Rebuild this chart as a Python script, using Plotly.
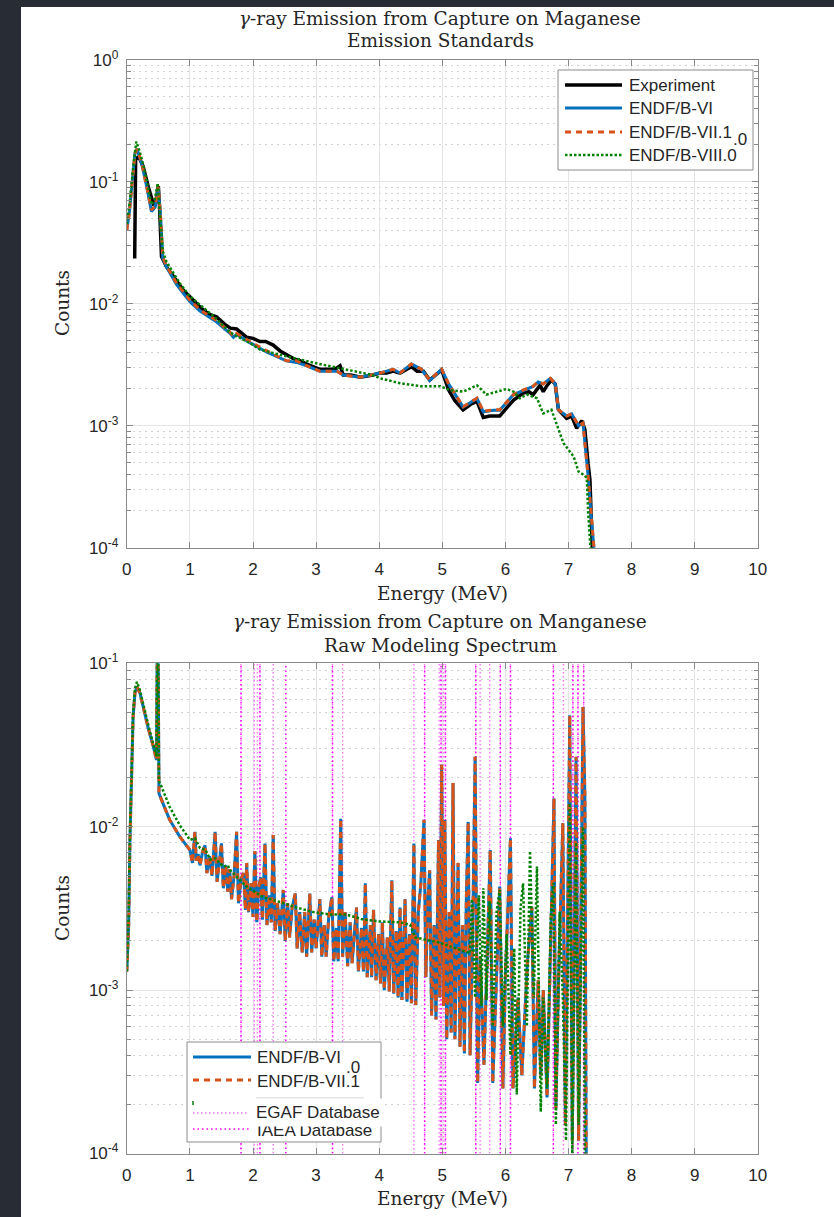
import plotly.graph_objects as go

W, H = 834, 1217

# ---------------- TOP: Emission Standards ----------------
exp_E = [0.125, 0.14, 0.19, 0.26, 0.34, 0.42, 0.46, 0.5, 0.52, 0.55, 0.63, 0.79, 0.9, 1.0, 1.16, 1.3, 1.42,
         1.55, 1.64, 1.74, 1.82, 1.9, 2.0, 2.11, 2.2, 2.32, 2.43, 2.53, 2.64, 2.75, 2.85, 3.06, 3.2, 3.3,
         3.38, 3.43, 3.55, 3.7, 3.9, 4.01, 4.12, 4.22, 4.33, 4.51, 4.6, 4.7, 4.8, 4.99, 5.1, 5.2, 5.33,
         5.45, 5.55, 5.65, 5.75, 5.81, 5.91, 6.02, 6.13, 6.28, 6.37, 6.44, 6.55, 6.6, 6.65, 6.73, 6.79,
         6.84, 6.97, 7.05, 7.13, 7.21, 7.26, 7.31, 7.34, 7.38]
exp_C = [0.0235, 0.155, 0.16, 0.133, 0.091, 0.066, 0.068, 0.092, 0.06, 0.0243, 0.020, 0.0156, 0.0128, 0.0114,
         0.0094, 0.0082, 0.0078, 0.0068, 0.0063, 0.0062, 0.0057, 0.0053, 0.0052, 0.0049, 0.0049, 0.00458,
         0.0041, 0.0038, 0.00355, 0.0034, 0.0032, 0.0029, 0.0029, 0.0029, 0.0031, 0.0026, 0.0026, 0.0025,
         0.0026, 0.0027, 0.0027, 0.0028, 0.0027, 0.00305, 0.0028, 0.0028, 0.00237, 0.00286, 0.00196,
         0.0016, 0.00135, 0.0015, 0.00158, 0.00117, 0.0012, 0.0012, 0.0012, 0.0014, 0.00162, 0.00185,
         0.0019, 0.0018, 0.00215, 0.0019, 0.0021, 0.00237, 0.0022, 0.00135, 0.00115, 0.0012, 0.00095,
         0.0011, 0.00093, 0.00049, 0.00036, 0.00009]

std_E = [0.0, 0.04, 0.08, 0.13, 0.16, 0.19, 0.24, 0.32, 0.39, 0.45, 0.5, 0.54, 0.57, 0.63, 0.79, 1.0, 1.16,
         1.42, 1.64, 1.69, 1.74, 1.95, 2.22, 2.53, 2.69, 2.85, 3.06, 3.33, 3.43, 3.7, 4.01, 4.22, 4.33,
         4.51, 4.67, 4.8, 4.99, 5.1, 5.33, 5.55, 5.65, 5.81, 5.91, 6.13, 6.28, 6.44, 6.52, 6.6, 6.71,
         6.79, 6.84, 6.97, 7.05, 7.16, 7.23, 7.31, 7.36, 7.41]
vi_C = [0.04, 0.056, 0.093, 0.172, 0.186, 0.168, 0.138, 0.089, 0.057, 0.062, 0.089, 0.047, 0.0235, 0.0200,
        0.0143, 0.0104, 0.0087, 0.0071, 0.0057, 0.0053, 0.0056, 0.0048, 0.0040, 0.0034, 0.0033, 0.0031,
        0.0028, 0.0028, 0.0026, 0.0025, 0.0027, 0.0029, 0.0027, 0.0032, 0.0029, 0.00235, 0.0029, 0.0022,
        0.00142, 0.00167, 0.0013, 0.00134, 0.00134, 0.0018, 0.00195, 0.0021, 0.00228, 0.0022, 0.00244,
        0.0022, 0.00135, 0.0012, 0.00125, 0.001, 0.00105, 0.00039, 0.00018, 0.00009]
vii1_C = [0.04, 0.055, 0.091, 0.17, 0.185, 0.17, 0.14, 0.091, 0.0586, 0.063, 0.091, 0.048, 0.024, 0.0205,
          0.0147, 0.0107, 0.0089, 0.0073, 0.0058, 0.0054, 0.0057, 0.0049, 0.0041, 0.0034, 0.0034, 0.0031,
          0.0028, 0.0028, 0.0026, 0.0025, 0.0027, 0.0029, 0.0027, 0.0032, 0.0029, 0.00237, 0.0029, 0.0022,
          0.00143, 0.00168, 0.00131, 0.00135, 0.00135, 0.0018, 0.00196, 0.00211, 0.00229, 0.0022, 0.00245,
          0.0022, 0.00135, 0.0012, 0.00125, 0.001, 0.00105, 0.00039, 0.00018, 0.00009]

viii_E = [0.0, 0.05, 0.1, 0.15, 0.2, 0.25, 0.32, 0.39, 0.44, 0.49, 0.53, 0.57, 0.63, 0.79, 0.84, 1.0, 1.16,
          1.4, 1.64, 2.0, 2.11, 2.53, 3.06, 3.48, 3.9, 4.01, 4.33, 4.65, 4.96, 5.12, 5.33, 5.55, 5.7, 6.02,
          6.13, 6.23, 6.34, 6.5, 6.6, 6.73, 6.81, 6.92, 7.08, 7.16, 7.26, 7.29, 7.31, 7.34, 7.36]
viii_C = [0.045, 0.07, 0.13, 0.213, 0.18, 0.145, 0.1, 0.065, 0.07, 0.097, 0.05, 0.027, 0.022, 0.016,
          0.0147, 0.0115, 0.0098, 0.0077, 0.0058, 0.0046, 0.0042, 0.0037, 0.0032, 0.0029, 0.0026, 0.00245,
          0.00223, 0.00211, 0.00211, 0.00196, 0.0019, 0.00214, 0.0018, 0.002, 0.0019, 0.00168, 0.0018,
          0.00168, 0.00126, 0.00135, 0.00104, 0.00072, 0.00056, 0.00042, 0.00039, 0.00037, 0.0002, 0.0001,
          0.00008]

# ---------------- BOTTOM: Raw Modeling Spectrum ----------------
raw_E = [0.0, 0.03, 0.05, 0.08, 0.1, 0.13, 0.16, 0.21, 0.26, 0.34, 0.42, 0.47, 0.49, 0.51, 0.55, 0.68, 0.84,
         1.00, 1.04, 1.08, 1.10, 1.13, 1.16, 1.20, 1.24, 1.27, 1.31, 1.35, 1.40, 1.43, 1.47, 1.50, 1.53,
         1.57, 1.60, 1.63, 1.66, 1.70, 1.74, 1.77, 1.81, 1.85, 1.88, 1.90, 1.93, 1.97, 2.00, 2.03, 2.06,
         2.09, 2.12, 2.15, 2.19, 2.22, 2.26, 2.29, 2.32, 2.35, 2.39, 2.43, 2.48, 2.51, 2.55, 2.58, 2.62,
         2.67, 2.70, 2.74, 2.78, 2.82, 2.85, 2.90, 2.93, 2.97, 3.00, 3.06, 3.09, 3.13, 3.16, 3.20, 3.25,
         3.28, 3.32, 3.35, 3.39, 3.42, 3.46, 3.50, 3.54, 3.57, 3.64, 3.67, 3.72, 3.75, 3.78, 3.81, 3.86,
         3.88, 3.91, 3.95, 3.99, 4.02, 4.05, 4.08, 4.13, 4.16, 4.20, 4.23, 4.27, 4.30, 4.33, 4.36, 4.41,
         4.44, 4.48, 4.51, 4.55, 4.58, 4.62, 4.66, 4.71, 4.74, 4.77, 4.80, 4.83, 4.87, 4.90, 4.94, 4.96,
         4.99, 5.02, 5.04, 5.07, 5.11, 5.14, 5.17, 5.20, 5.25, 5.28, 5.32, 5.35, 5.38, 5.41, 5.44, 5.48,
         5.52, 5.56, 5.6, 5.66, 5.76, 5.8, 5.86, 5.91, 5.96, 6.0, 6.08, 6.12, 6.2, 6.26, 6.35, 6.42, 6.46,
         6.52, 6.56, 6.6, 6.66, 6.77, 6.8, 6.85, 6.91, 6.95, 7.02, 7.06, 7.12, 7.16, 7.23, 7.26, 7.28, 7.3]
raw_vi = [0.0013, 0.0025, 0.0083, 0.0203, 0.047, 0.066, 0.072, 0.0655, 0.054, 0.040, 0.031, 0.0256, 0.3,
          0.016, 0.0146, 0.011, 0.0087,
          0.0072, 0.0060, 0.0093, 0.0062, 0.0068, 0.0058, 0.0070, 0.0077, 0.0052, 0.0066, 0.0050, 0.0093,
          0.0046, 0.0062, 0.0079, 0.0042, 0.0058, 0.0040, 0.0055, 0.0036, 0.0050, 0.0093, 0.0034, 0.0048,
          0.0052, 0.0031, 0.0060, 0.0030, 0.0045, 0.0028, 0.0071, 0.0026, 0.0042, 0.0049, 0.0027, 0.0079,
          0.0025, 0.0038, 0.0026, 0.0089, 0.0023, 0.0034, 0.0022, 0.0041, 0.0020, 0.0034, 0.0021, 0.0032,
          0.0039, 0.0018, 0.0030, 0.0017, 0.0030, 0.0016, 0.0039, 0.0017, 0.0027, 0.0018, 0.0036, 0.0016,
          0.0025, 0.0016, 0.0028, 0.0037, 0.0015, 0.0024, 0.0015, 0.0112, 0.0016, 0.0030, 0.0014, 0.0026,
          0.00146, 0.0032, 0.0013, 0.0024, 0.0013, 0.0045, 0.0012, 0.0025, 0.0012, 0.0031, 0.00115, 0.0022,
          0.0011, 0.0026, 0.0010, 0.0021, 0.00098, 0.0047, 0.00095, 0.0023, 0.0009, 0.0032, 0.00087, 0.0036,
          0.00085, 0.0022, 0.00083, 0.0079, 0.00081, 0.0030, 0.0045, 0.011, 0.0012, 0.0035, 0.0054, 0.0007,
          0.0025, 0.00066, 0.0083, 0.0009, 0.0239, 0.0008, 0.011, 0.0005, 0.0030, 0.00055, 0.0185, 0.0005,
          0.006, 0.00045, 0.0025, 0.00041, 0.0035, 0.0107, 0.0004, 0.0020, 0.0268, 0.00027, 0.0016,
          0.00035, 0.0072, 0.00027, 0.0012, 0.0043, 0.00025, 0.0012, 0.0085, 0.00025, 0.0009, 0.0003,
          0.0015, 0.0032, 0.00025, 0.00115, 0.0003, 0.001, 0.00022, 0.0149, 0.00019, 0.0015, 0.0105,
          0.00015, 0.048, 0.00012, 0.0268, 0.00012, 0.054, 0.0153, 0.00011, 0.00005]
raw_vii1 = list(raw_vi)

raw8_E = [0.0, 0.03, 0.05, 0.08, 0.1, 0.13, 0.16, 0.21, 0.26, 0.34, 0.42, 0.47, 0.49, 0.51, 0.55, 0.68, 0.84,
          1.0, 1.08, 1.16, 1.25, 1.32, 1.4, 1.53, 1.6, 1.64, 1.9, 2.16, 2.43, 2.69, 2.96, 3.22, 3.48, 3.75,
          4.01, 4.33, 4.49, 4.57, 4.96, 5.44, 5.47, 5.52, 5.58, 5.62, 5.65, 5.7, 5.75, 5.8, 5.86, 5.91, 5.96,
          6.02, 6.08, 6.14, 6.18, 6.24, 6.28, 6.34, 6.39, 6.45, 6.5, 6.56, 6.6, 6.66, 6.72, 6.76, 6.8, 6.86,
          6.91, 6.96, 7.02, 7.06, 7.12, 7.16, 7.23, 7.26, 7.3]
raw_viii = [0.0013, 0.003, 0.009, 0.022, 0.05, 0.07, 0.077, 0.068, 0.056, 0.042, 0.032, 0.027, 0.3, 0.019,
            0.0176, 0.0132, 0.0102, 0.0083, 0.0085, 0.0074, 0.0072, 0.0063, 0.0064, 0.0057, 0.0058, 0.0054,
            0.0043, 0.0037, 0.00346, 0.0032, 0.0030, 0.0029, 0.0029, 0.0027, 0.00263, 0.0026, 0.00251,
            0.0021, 0.00195, 0.00168, 0.0036, 0.0009, 0.0038, 0.0008, 0.0042, 0.00087, 0.0035, 0.0006, 0.003,
            0.0041, 0.0006, 0.0022, 0.0004, 0.0018, 0.00023, 0.0032, 0.0045, 0.0006, 0.0071, 0.0009, 0.0057,
            0.00018, 0.0009, 0.00025, 0.0028, 0.0045, 0.00015, 0.003, 0.0009, 0.00012, 0.0139, 0.0001, 0.008,
            0.00015, 0.01, 0.0001, 0.00005]

egaf_E = [1.81, 2.02, 2.07, 2.11, 2.32, 3.26, 3.42, 4.55, 4.72, 4.95, 4.98, 5.02, 5.05, 5.53, 5.60, 5.75,
          5.92, 6.08, 6.76, 6.92, 7.07, 7.15, 7.24]
iaea_E = [1.81, 2.11, 2.52, 3.26, 4.72, 4.98, 5.05, 5.53, 5.92, 6.08, 6.76, 7.07, 7.15, 7.24]

x_ticks = list(range(0, 11))
top_decades = [-4, -3, -2, -1, 0]
bot_decades = [-4, -3, -2, -1]

# ---------------- styling ----------------
BLUE = "#0072BD"
ORANGE = "#D95319"
GREEN = "#008000"
PINK = "#ff70ff"
MAGENTA = "#ff00ff"
SANS = "Liberation Sans"
SERIF = "DejaVu Serif"
AXC = "#8a8a8a"
TXT = "#262626"


def px(x):
    return x / W


def py(y):
    return 1 - y / H


fig = go.Figure()

# top traces
fig.add_trace(go.Scatter(x=exp_E, y=exp_C, mode="lines", line=dict(color="black", width=3.5),
                         xaxis="x", yaxis="y", showlegend=False))
fig.add_trace(go.Scatter(x=std_E, y=vi_C, mode="lines", line=dict(color=BLUE, width=3),
                         xaxis="x", yaxis="y", showlegend=False))
fig.add_trace(go.Scatter(x=std_E, y=vii1_C, mode="lines", line=dict(color=ORANGE, width=3, dash="6px,5px"),
                         xaxis="x", yaxis="y", showlegend=False))
fig.add_trace(go.Scatter(x=viii_E, y=viii_C, mode="lines", line=dict(color=GREEN, width=2.5, dash="2.5px,2px"),
                         xaxis="x", yaxis="y", showlegend=False))


# bottom traces
def vlines(energies, lo, hi):
    xs, ys = [], []
    for e in energies:
        xs += [e, e, None]
        ys += [lo, hi, None]
    return xs, ys


ex, ey = vlines(egaf_E, 10 ** bot_decades[0], 10 ** bot_decades[-1])
ix, iy = vlines(iaea_E, 10 ** bot_decades[0], 10 ** bot_decades[-1])
fig.add_trace(go.Scatter(x=ex, y=ey, mode="lines", line=dict(color=PINK, width=1.4, dash="1.4px,2.6px"),
                         xaxis="x2", yaxis="y2", showlegend=False, connectgaps=False))
fig.add_trace(go.Scatter(x=ix, y=iy, mode="lines", line=dict(color=MAGENTA, width=1.5, dash="1.5px,3px"),
                         xaxis="x2", yaxis="y2", showlegend=False, connectgaps=False))
fig.add_trace(go.Scatter(x=raw_E, y=raw_vi, mode="lines", line=dict(color=BLUE, width=3),
                         xaxis="x2", yaxis="y2", showlegend=False))
fig.add_trace(go.Scatter(x=raw_E, y=raw_vii1, mode="lines", line=dict(color=ORANGE, width=3, dash="6px,5px"),
                         xaxis="x2", yaxis="y2", showlegend=False))
fig.add_trace(go.Scatter(x=raw8_E, y=raw_viii, mode="lines", line=dict(color=GREEN, width=2.5, dash="2.5px,2px"),
                         xaxis="x2", yaxis="y2", showlegend=False))


def minor_vals(decades):
    vals = []
    for d in decades[:-1]:
        for m in range(2, 10):
            vals.append(m * 10 ** d)
    return vals


def xaxis_cfg(dom, anchor):
    return dict(domain=dom, anchor=anchor, range=[0, 10], tickmode="array", tickvals=x_ticks,
                ticktext=[str(t) for t in x_ticks], showline=True, linecolor=AXC, linewidth=1,
                mirror="ticks", ticks="inside", ticklen=6, tickcolor=AXC, showgrid=True,
                gridcolor="#e4e4e4", gridwidth=1, zeroline=False, automargin=False,
                ticklabelstandoff=6,
                tickfont=dict(family=SANS, size=17, color=TXT))


def yaxis_cfg(dom, anchor, decades):
    return dict(domain=dom, anchor=anchor, type="log", range=[decades[0], decades[-1]],
                tickmode="array", tickvals=[10 ** d for d in decades],
                ticktext=["10<sup>%d</sup>" % d for d in decades],
                showline=True, linecolor=AXC, linewidth=1, mirror="ticks", ticks="inside", ticklen=6,
                tickcolor=AXC, showgrid=True, gridcolor="#e4e4e4", gridwidth=1, zeroline=False,
                automargin=False, ticklabelstandoff=4,
                tickfont=dict(family=SANS, size=17, color=TXT),
                minor=dict(tickmode="array", tickvals=minor_vals(decades), ticks="inside", ticklen=4,
                           tickcolor=AXC, showgrid=True, gridcolor="#d2d2d2", griddash="2px,4px",
                           gridwidth=1))


top_x = [px(126.8), px(757.8)]
top_y = [py(547.7), py(59.7)]
bot_y = [py(1153.5), py(663.3)]

shapes = []
annotations = []

# white page region (dark frame on the left and top)
shapes.append(dict(type="rect", xref="paper", yref="paper", x0=px(21), x1=1.1, y0=-0.1, y1=py(7),
                   fillcolor="white", line=dict(width=0), layer="below"))


def ann(text, x, y, size, family=SERIF, xanchor="center", yanchor="middle", angle=0, color=TXT,
        bgcolor=None, pad=0):
    d = dict(text=text, x=px(x), y=py(y), xref="paper", yref="paper", showarrow=False,
             xanchor=xanchor, yanchor=yanchor, textangle=angle,
             font=dict(family=family, size=size, color=color))
    if bgcolor:
        d["bgcolor"] = bgcolor
        d["borderpad"] = pad
    annotations.append(d)


ann("<i>γ</i>-ray Emission from Capture on Maganese", 440, 18, 18.5)
ann("Emission Standards", 440, 41, 18.5)
ann("Energy (MeV)", 442, 594, 18.5)
ann("Counts", 62, 303, 18.5, angle=-90)
ann("<i>γ</i>-ray Emission from Capture on Manganese", 440, 621, 18.5)
ann("Raw Modeling Spectrum", 440, 645, 18.5)
ann("Energy (MeV)", 442, 1198, 18.5)
ann("Counts", 62, 908, 18.5, angle=-90)

# top legend (manual, MATLAB-like)
shapes.append(dict(type="rect", xref="paper", yref="paper", x0=px(558), x1=px(753), y0=py(170), y1=py(70),
                   fillcolor="white", line=dict(color="#8c8c8c", width=1), layer="above"))
leg_top = [("Experiment", "black", 3.5, "solid", 85),
           ("ENDF/B-VI", BLUE, 3, "solid", 108),
           ("ENDF/B-VII.1", ORANGE, 3, "6px,5px", 132),
           ("ENDF/B-VIII.0", GREEN, 2.5, "2.5px,2px", 155)]
for name, col, w, dash, yy in leg_top:
    shapes.append(dict(type="line", xref="paper", yref="paper", x0=px(565), x1=px(622), y0=py(yy), y1=py(yy),
                       line=dict(color=col, width=w, dash=dash), layer="above"))
    ann(name, 627, yy, 17, family=SANS, xanchor="left")
ann(".0", 731, 139, 17, family=SANS, xanchor="left")

# bottom legend
shapes.append(dict(type="rect", xref="paper", yref="paper", x0=px(187), x1=px(381), y0=py(1142), y1=py(1042),
                   fillcolor="white", line=dict(color="#8c8c8c", width=1), layer="above"))
shapes.append(dict(type="line", xref="paper", yref="paper", x0=px(193), x1=px(251), y0=py(1057), y1=py(1057),
                   line=dict(color=BLUE, width=3), layer="above"))
shapes.append(dict(type="line", xref="paper", yref="paper", x0=px(193), x1=px(251), y0=py(1080), y1=py(1080),
                   line=dict(color=ORANGE, width=3, dash="6px,5px"), layer="above"))
shapes.append(dict(type="line", xref="paper", yref="paper", x0=px(256), x1=px(364), y0=py(1098), y1=py(1098),
                   line=dict(color="#dcdcdc", width=1.5), layer="above"))
shapes.append(dict(type="line", xref="paper", yref="paper", x0=px(193), x1=px(193), y0=py(1105), y1=py(1101),
                   line=dict(color=GREEN, width=1.5), layer="above"))
shapes.append(dict(type="line", xref="paper", yref="paper", x0=px(193), x1=px(249), y0=py(1113), y1=py(1113),
                   line=dict(color=PINK, width=1.4, dash="1.4px,2.6px"), layer="above"))
shapes.append(dict(type="line", xref="paper", yref="paper", x0=px(193), x1=px(249), y0=py(1129), y1=py(1129),
                   line=dict(color=MAGENTA, width=1.5, dash="1.5px,3px"), layer="above"))
ann("ENDF/B-VI", 255, 1057, 17, family=SANS, xanchor="left")
ann(".0", 344, 1067, 17, family=SANS, xanchor="left")
ann("ENDF/B-VII.1", 255, 1081, 17, family=SANS, xanchor="left")
ann("IAEA Database", 255, 1130, 17, family=SANS, xanchor="left")
ann("EGAF Database", 251, 1112, 17, family=SANS, xanchor="left", bgcolor="white", pad=4)

fig.update_layout(
    width=W, height=H,
    margin=dict(l=0, r=0, t=0, b=0, pad=0, autoexpand=False),
    paper_bgcolor="#282c34",
    plot_bgcolor="white",
    showlegend=False,
    xaxis=xaxis_cfg(top_x, "y"),
    yaxis=yaxis_cfg(top_y, "x", top_decades),
    xaxis2=xaxis_cfg(top_x, "y2"),
    yaxis2=yaxis_cfg(bot_y, "x2", bot_decades),
    shapes=shapes,
    annotations=annotations,
)

fig.write_html("out.html")
